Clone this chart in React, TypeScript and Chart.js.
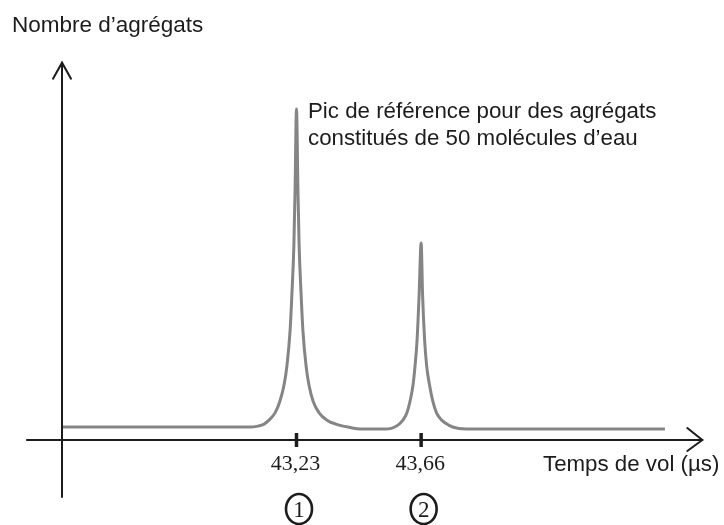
import React, { useEffect, useRef } from "react";
import { Chart, registerables } from "chart.js";

Chart.register(...registerables);

// Time of flight (µs) and number of aggregates (arbitrary units, reference peak = 100)
const timeOfFlight: number[] = [
  42.421, 43.070, 43.097, 43.118, 43.135, 43.156, 43.173, 43.187, 43.197, 43.208,
  43.214, 43.221, 43.225, 43.230, 43.235, 43.239, 43.246, 43.252, 43.263, 43.273,
  43.287, 43.308, 43.335, 43.366, 43.408, 43.456, 43.535,
  43.560, 43.580, 43.597, 43.611, 43.622, 43.632, 43.639, 43.646, 43.653, 43.660,
  43.665, 43.672, 43.679, 43.689, 43.700, 43.713, 43.731, 43.755, 43.782, 43.830,
  44.501,
];
const aggregateCount: number[] = [
  3.9, 3.9, 4.2, 4.8, 6.0, 8.2, 11.8, 16.6, 22.4, 33.2,
  43.8, 58.9, 75.5, 100, 75.5, 58.9, 43.8, 33.2, 22.4, 16.6,
  11.8, 8.2, 6.0, 4.8, 3.9, 3.3, 3.3,
  3.6, 4.5, 6.0, 8.2, 11.8, 16.6, 22.4, 30.2, 43.8, 59.5,
  43.8, 30.2, 22.4, 16.6, 11.8, 8.2, 6.0, 4.5, 3.6, 3.3,
  3.3,
];
const peakTimes: number[] = [43.23, 43.66];
const peakNumbers: string[] = ["1", "2"];

const yAxisTitle = "Nombre d’agrégats";
const xAxisTitle = "Temps de vol (µs)";
const annotationLines: string[] = [
  "Pic de référence pour des agrégats",
  "constitués de 50 molécules d’eau",
];

const SANS = '"Liberation Sans", Arial, sans-serif';
const SERIF = '"Liberation Serif", "Times New Roman", serif';

const decorPlugin = {
  id: "decor",
  afterDatasetsDraw(chart: any) {
    const ctx = chart.ctx as CanvasRenderingContext2D;
    const xs = chart.scales.x;
    const ys = chart.scales.y;
    const axisX = xs.getPixelForValue(42.421);
    const axisY = ys.getPixelForValue(0);
    ctx.save();
    ctx.strokeStyle = "#1c1c1c";
    ctx.fillStyle = "#1c1c1c";
    ctx.lineWidth = 2;
    ctx.lineCap = "round";

    // vertical axis
    const yTop = ys.getPixelForValue(114);
    const yBottom = ys.getPixelForValue(-17.2);
    ctx.beginPath();
    ctx.moveTo(axisX, yBottom);
    ctx.lineTo(axisX, yTop);
    ctx.stroke();
    ctx.beginPath();
    ctx.moveTo(axisX - 9, yTop + 16);
    ctx.lineTo(axisX, yTop);
    ctx.lineTo(axisX + 9, yTop + 16);
    ctx.stroke();

    // horizontal axis
    const xLeft = xs.getPixelForValue(42.3);
    const xRight = xs.getPixelForValue(44.63);
    ctx.beginPath();
    ctx.moveTo(xLeft, axisY);
    ctx.lineTo(xRight, axisY);
    ctx.stroke();
    ctx.beginPath();
    ctx.moveTo(xRight - 15, axisY - 12);
    ctx.lineTo(xRight, axisY);
    ctx.lineTo(xRight - 15, axisY + 11);
    ctx.stroke();

    // ticks, tick labels and circled numbers
    peakTimes.forEach((t, i) => {
      const px = xs.getPixelForValue(t);
      ctx.lineWidth = 3.5;
      ctx.lineCap = "butt";
      ctx.beginPath();
      ctx.moveTo(px, axisY - 7);
      ctx.lineTo(px, axisY + 7);
      ctx.stroke();

      ctx.font = `22px ${SERIF}`;
      ctx.textAlign = "center";
      ctx.textBaseline = "alphabetic";
      ctx.fillStyle = "#1c1c1c";
      ctx.fillText(t.toFixed(2).replace(".", ","), px - 1, axisY + 30);

      ctx.lineWidth = 2.6;
      ctx.beginPath();
      ctx.ellipse(px + 2.5, axisY + 69, 13, 15, 0, 0, Math.PI * 2);
      ctx.stroke();
      ctx.font = `23px ${SERIF}`;
      ctx.fillText(peakNumbers[i], px + 2.5, axisY + 77);
    });

    // titles
    ctx.fillStyle = "#1c1c1c";
    ctx.textAlign = "left";
    ctx.font = `22.5px ${SANS}`;
    ctx.fillText(yAxisTitle, 12, 32);
    ctx.font = `22.3px ${SANS}`;
    ctx.fillText(xAxisTitle, 543, axisY + 31);
    ctx.fillText(annotationLines[0], 308, 118);
    ctx.fillText(annotationLines[1], 308, 145);
    ctx.restore();
  },
};

export default function App() {
  const canvasRef = useRef<HTMLCanvasElement | null>(null);

  useEffect(() => {
    if (!canvasRef.current) return;
    const pxPerUs = 1 / 0.00345;
    const pxPerCount = 3.31;
    const chart = new Chart(canvasRef.current, {
      type: "line",
      data: {
        datasets: [
          {
            data: timeOfFlight.map((t, i) => ({ x: t, y: aggregateCount[i] })),
            borderColor: "#858585",
            borderWidth: 3,
            pointRadius: 0,
            tension: 0.3,
            cubicInterpolationMode: "monotone",
            fill: false,
          },
        ],
      },
      options: {
        animation: false,
        responsive: false,
        devicePixelRatio: 1,
        layout: { padding: 0 },
        plugins: { legend: { display: false }, tooltip: { enabled: false } },
        scales: {
          x: {
            type: "linear",
            display: false,
            min: 43.23 - 296.5 / pxPerUs,
            max: 43.23 + (724 - 296.5) / pxPerUs,
          },
          y: {
            type: "linear",
            display: false,
            min: -(525 - 440) / pxPerCount,
            max: 440 / pxPerCount,
          },
        },
      },
      plugins: [decorPlugin],
    });
    return () => chart.destroy();
  }, []);

  return (
    <div style={{ position: "absolute", left: 0, top: 0, width: 724, height: 525, background: "#fff" }}>
      <canvas ref={canvasRef} width={724} height={525} />
    </div>
  );
}
